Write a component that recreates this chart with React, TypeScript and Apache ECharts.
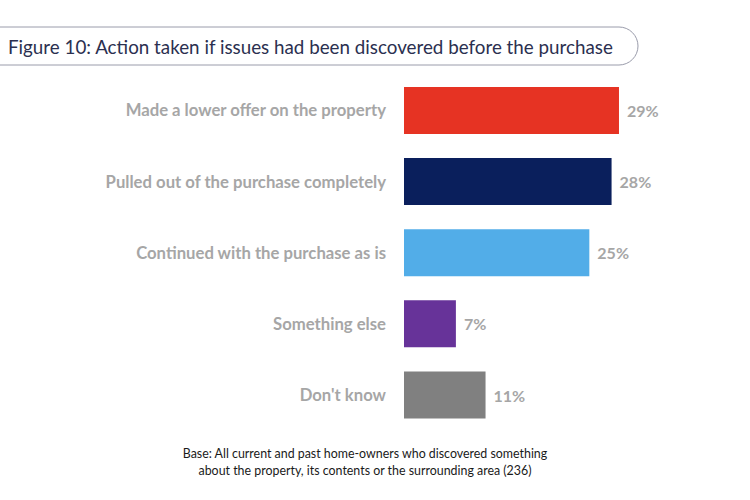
import React, { useEffect, useRef } from "react";
import * as echarts from "echarts";

const categories = [
  "Made a lower offer on the property",
  "Pulled out of the purchase completely",
  "Continued with the purchase as is",
  "Something else",
  "Don't know",
];
const values = [29, 28, 25, 7, 11];
const colors = ["#e63323", "#0a1f5c", "#52ade8", "#673399", "#808080"];
const titleText = "Figure 10: Action taken if issues had been discovered before the purchase";
const footLines = [
  "Base: All current and past home-owners who discovered something",
  "about the property, its contents or the surrounding area (236)",
];

export default function App() {
  const ref = useRef<HTMLDivElement>(null);
  useEffect(() => {
    if (!ref.current) return;
    const chart = echarts.init(ref.current, null, { renderer: "svg" });
    chart.setOption({
      animation: false,
      backgroundColor: "#ffffff",
      grid: { left: 404, right: 123.6, top: 74.8, bottom: 69.4, containLabel: false },
      xAxis: {
        type: "value",
        min: 0,
        max: 30,
        show: false,
      },
      yAxis: {
        type: "category",
        inverse: true,
        data: categories,
        axisLine: { show: false },
        axisTick: { show: false },
        axisLabel: {
          margin: 18,
          color: "#a6a6a6",
          fontWeight: "bold",
          fontSize: 16.7,
          fontFamily: "Lato",
        },
      },
      series: [
        {
          type: "bar",
          barWidth: 47,
          data: values.map((v, i) => ({ value: v, itemStyle: { color: colors[i] } })),
          label: {
            show: true,
            position: "right",
            distance: 8,
            formatter: "{c}%",
            color: "#a6a6a6",
            fontWeight: "bold",
            fontSize: 16,
            fontFamily: "Lato",
          },
        },
      ],
      graphic: [
        {
          type: "rect",
          shape: { x: -40, y: 27, width: 678, height: 38, r: 19 },
          style: { fill: "none", stroke: "#9a9cab", lineWidth: 1 },
        },
        {
          type: "text",
          x: 8,
          y: 46,
          style: {
            text: titleText,
            fill: "#2b3050",
            font: "18.8px Lato",
            verticalAlign: "middle",
          },
        },
        {
          type: "text",
          x: 365,
          y: 453,
          style: {
            text: footLines[0],
            fill: "#1a1a1a",
            font: "12.4px Lato",
            align: "center",
            verticalAlign: "middle",
          },
        },
        {
          type: "text",
          x: 365,
          y: 470,
          style: {
            text: footLines[1],
            fill: "#1a1a1a",
            font: "12.4px Lato",
            align: "center",
            verticalAlign: "middle",
          },
        },
      ],
    });
    return () => chart.dispose();
  }, []);
  return <div ref={ref} style={{ width: 750, height: 500, position: "absolute", left: 0, top: 0 }} />;
}
